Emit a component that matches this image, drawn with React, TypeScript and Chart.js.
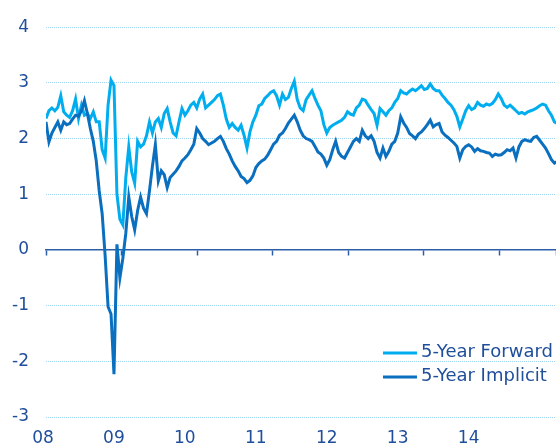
import React, { useEffect, useRef } from "react";
import { Chart, registerables } from "chart.js";

Chart.register(...registerables);

// Time axis: semi-monthly observations starting mid-January 2008 (fractional years)
const START_YEAR = 2008.0424;
const STEP_YEARS = 1 / 24;
const X_MIN = 2008.0424;
const X_MAX = 2015.2316;
const YEAR_TICKS = [2008, 2009, 2010, 2011, 2012, 2013, 2014];
const Y_MIN = -3;
const Y_MAX = 4;

const SERIES_LABELS = ["5-Year Forward", "5-Year Implicit"];

const FORWARD = [
  2.36, 2.5, 2.55, 2.5, 2.56, 2.77, 2.48, 2.42, 2.38, 2.5,
  2.71, 2.36, 2.6, 2.42, 2.45, 2.36, 2.48, 2.3, 2.3, 1.8,
  1.65, 2.6, 3.05, 2.95, 1.0, 0.55, 0.45, 1.3, 1.85, 1.4,
  1.2, 1.95, 1.85, 1.9, 2.05, 2.3, 2.1, 2.3, 2.36, 2.2,
  2.45, 2.54, 2.3, 2.1, 2.05, 2.3, 2.54, 2.42, 2.5, 2.6,
  2.65, 2.55, 2.71, 2.8, 2.55, 2.6, 2.65, 2.7, 2.77, 2.8,
  2.6, 2.35, 2.2, 2.27, 2.2, 2.15, 2.24, 2.06, 1.83, 2.12,
  2.3, 2.42, 2.59, 2.62, 2.72, 2.77, 2.83, 2.86, 2.77, 2.6,
  2.8, 2.7, 2.74, 2.9, 3.03, 2.7, 2.55, 2.5, 2.7, 2.78,
  2.86, 2.72, 2.6, 2.5, 2.25, 2.1, 2.2, 2.24, 2.27, 2.3,
  2.33, 2.38, 2.48, 2.44, 2.42, 2.55, 2.6, 2.71, 2.69, 2.6,
  2.52, 2.45, 2.24, 2.54, 2.48, 2.42, 2.5, 2.55, 2.65, 2.72,
  2.86, 2.82, 2.8, 2.85, 2.89, 2.86, 2.9, 2.95, 2.88, 2.9,
  2.98, 2.9, 2.86, 2.86, 2.78, 2.72, 2.65, 2.6, 2.52, 2.4,
  2.21, 2.35, 2.5, 2.59, 2.52, 2.55, 2.65, 2.6, 2.58, 2.62,
  2.6, 2.63, 2.7, 2.8, 2.72, 2.6, 2.56, 2.6, 2.55, 2.5,
  2.45, 2.47, 2.44, 2.48, 2.5, 2.52, 2.55, 2.59, 2.62, 2.6,
  2.5, 2.42, 2.3, 2.27,
];

const IMPLICIT = [
  2.3, 1.94, 2.1, 2.2, 2.3, 2.15, 2.3, 2.25, 2.27, 2.35,
  2.42, 2.4, 2.5, 2.68, 2.45, 2.18, 1.95, 1.6, 1.06, 0.65,
  -0.1, -1.02, -1.15, -2.23, 0.1, -0.5, -0.15, 0.3, 0.95, 0.6,
  0.36, 0.71, 0.95, 0.75, 0.65, 1.06, 1.5, 1.89, 1.24, 1.42,
  1.35, 1.12, 1.3, 1.36, 1.42, 1.5, 1.6, 1.65, 1.71, 1.8,
  1.9, 2.18, 2.1, 2.0, 1.95, 1.89, 1.92, 1.95, 2.0, 2.04,
  1.95, 1.82, 1.72, 1.6, 1.5, 1.42, 1.32, 1.28, 1.21, 1.25,
  1.33, 1.48, 1.55, 1.6, 1.63, 1.7, 1.8, 1.9, 1.95, 2.06,
  2.1, 2.18, 2.28, 2.35, 2.42, 2.3, 2.15, 2.05, 2.0, 1.98,
  1.95, 1.86, 1.76, 1.72, 1.65, 1.52, 1.62, 1.8, 1.95, 1.75,
  1.68, 1.65, 1.75, 1.85, 1.95, 2.0, 1.95, 2.15, 2.05, 2.0,
  2.05, 1.95, 1.75, 1.65, 1.83, 1.68, 1.77, 1.9, 1.95, 2.1,
  2.39, 2.28, 2.2, 2.09, 2.05, 2.0, 2.08, 2.12, 2.18, 2.25,
  2.33, 2.21, 2.25, 2.27, 2.12, 2.06, 2.02, 1.97, 1.92, 1.86,
  1.65, 1.8, 1.86, 1.89, 1.85, 1.77, 1.82, 1.78, 1.77, 1.75,
  1.74, 1.68, 1.72, 1.7, 1.71, 1.75, 1.8, 1.78, 1.83, 1.65,
  1.85, 1.95, 1.98, 1.96, 1.95, 2.02, 2.04, 1.97, 1.9, 1.83,
  1.73, 1.62, 1.56, 1.59,
];

const COLOR_FORWARD = "#00aeef";
const COLOR_IMPLICIT = "#0a6fbf";
const TEXT_COLOR = "#1f4e9b";
const AXIS_COLOR = "#2c5ea8";
const GRID_COLOR = "#9ed6f2";
const FONT_FAMILY = '"DejaVu Sans", Verdana, sans-serif';

const toPoints = (vals: number[]) =>
  vals.map((v, i) => ({ x: START_YEAR + i * STEP_YEARS, y: v }));

const insideLegend = {
  id: "insideLegend",
  afterDatasetsDraw(chart: any) {
    const { ctx, chartArea } = chart;
    ctx.save();
    ctx.font = `18px ${FONT_FAMILY}`;
    const items = chart.data.datasets.map((d: any) => ({
      label: d.label as string,
      color: d.borderColor as string,
    }));
    const maxW = Math.max(...items.map((it: any) => ctx.measureText(it.label).width));
    const textX = chartArea.right - 3 - maxW;
    const lineEnd = textX - 4;
    const lineStart = lineEnd - 34;
    items.forEach((it: any, k: number) => {
      const y = chartArea.bottom - 64 + k * 24;
      ctx.strokeStyle = it.color;
      ctx.lineWidth = 3;
      ctx.beginPath();
      ctx.moveTo(lineStart, y);
      ctx.lineTo(lineEnd, y);
      ctx.stroke();
      ctx.fillStyle = TEXT_COLOR;
      ctx.textAlign = "left";
      ctx.textBaseline = "middle";
      ctx.fillText(it.label, textX, y - 1);
    });
    ctx.restore();
  },
};

export default function App() {
  const canvasRef = useRef<HTMLCanvasElement | null>(null);

  useEffect(() => {
    if (!canvasRef.current) return;
    const chart = new Chart(canvasRef.current, {
      type: "line",
      data: {
        datasets: [
          {
            label: SERIES_LABELS[0],
            data: toPoints(FORWARD),
            borderColor: COLOR_FORWARD,
            backgroundColor: COLOR_FORWARD,
            borderWidth: 3,
            pointRadius: 0,
            tension: 0,
            order: 1,
          },
          {
            label: SERIES_LABELS[1],
            data: toPoints(IMPLICIT),
            borderColor: COLOR_IMPLICIT,
            backgroundColor: COLOR_IMPLICIT,
            borderWidth: 3,
            pointRadius: 0,
            tension: 0,
            order: 0,
          },
        ],
      },
      options: {
        animation: false,
        responsive: false,
        maintainAspectRatio: false,
        layout: { padding: { top: 20, right: 0, left: 0, bottom: 0 } },
        plugins: { legend: { display: false }, tooltip: { enabled: false } },
        scales: {
          x: {
            type: "linear",
            position: "bottom",
            min: X_MIN,
            max: X_MAX,
            grid: { display: false, drawTicks: false },
            border: { display: false },
            afterBuildTicks: (scale: any) => {
              scale.ticks = YEAR_TICKS.map((v) => ({ value: v }));
            },
            afterFit: (scale: any) => {
              scale.height = 35;
            },
            ticks: {
              autoSkip: false,
              maxRotation: 0,
              padding: 11,
              color: TEXT_COLOR,
              font: { family: FONT_FAMILY, size: 17 },
              callback: (v: any) => String(Math.round(Number(v)) % 100).padStart(2, "0"),
            },
          },
          xz: {
            type: "linear",
            axis: "x",
            position: { y: 0 },
            min: 0,
            max: 6.75,
            grid: {
              drawOnChartArea: false,
              drawTicks: true,
              tickLength: 5,
              tickColor: AXIS_COLOR,
              tickWidth: 1.5,
            },
            border: { display: true, color: AXIS_COLOR, width: 1.5 },
            ticks: { display: false, stepSize: 1 },
          },
          y: {
            type: "linear",
            position: "left",
            min: Y_MIN,
            max: Y_MAX,
            border: { display: false, dash: [1, 1] },
            grid: {
              drawTicks: false,
              lineWidth: 1,
              color: (ctx: any) => (ctx.tick && ctx.tick.value === 0 ? "rgba(0,0,0,0)" : GRID_COLOR),
            },
            afterFit: (scale: any) => {
              scale.width = 46;
            },
            ticks: {
              stepSize: 1,
              padding: 17,
              color: TEXT_COLOR,
              font: { family: FONT_FAMILY, size: 17 },
              callback: (v: any) => String(v),
            },
          },
        },
      } as any,
      plugins: [insideLegend],
    });
    return () => chart.destroy();
  }, []);

  return (
    <div
      style={{
        position: "fixed",
        left: 0,
        top: 0,
        width: 556,
        height: 445,
        overflow: "hidden",
        background: "#ffffff",
      }}
    >
      <canvas ref={canvasRef} width={556} height={452} style={{ display: "block" }} />
    </div>
  );
}
